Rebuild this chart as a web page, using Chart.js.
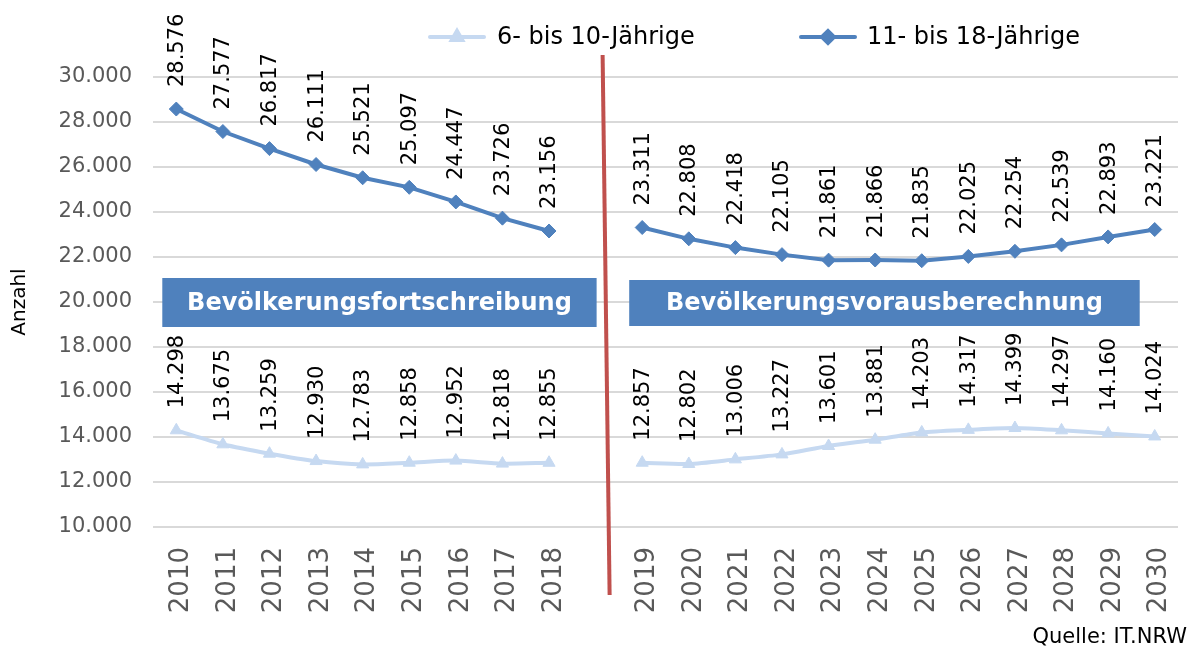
<!DOCTYPE html>
<html>
<head>
<meta charset="utf-8">
<script src="https://cdn.jsdelivr.net/npm/chart.js@4/dist/chart.umd.min.js"></script>
<style>
html,body{margin:0;padding:0;background:#fff;}
#wrap{width:1195px;height:646px;position:relative;}
</style>
</head>
<body>
<div id="wrap"><canvas id="c" width="1195" height="646"></canvas></div>
<script>
const years = ['2010','2011','2012','2013','2014','2015','2016','2017','2018','','2019','2020','2021','2022','2023','2024','2025','2026','2027','2028','2029','2030'];
const age6to10 = [14298,13675,13259,12930,12783,12858,12952,12818,12855,null,12857,12802,13006,13227,13601,13881,14203,14317,14399,14297,14160,14024];
const age11to18 = [28576,27577,26817,26111,25521,25097,24447,23726,23156,null,23311,22808,22418,22105,21861,21866,21835,22025,22254,22539,22893,23221];
const seriesNames = ['6- bis 10-Jährige','11- bis 18-Jährige'];
const yTicks = {min:10000, max:30000, step:2000};
const sectionLabels = ['Bevölkerungsfortschreibung','Bevölkerungsvorausberechnung'];
const sourceText = 'Quelle: IT.NRW';

const fmt = n => String(n).replace(/\B(?=(\d{3})+(?!\d))/g,'.');
const FONT = '"DejaVu Sans", Verdana, sans-serif';
const C_LIGHT = '#C6D9F1';
const C_DARK = '#4F81BD';

const deco = {
  id:'deco',
  beforeDatasetsDraw(chart){
    const ctx = chart.ctx, x = chart.scales.x, y = chart.scales.y;
    const yc = y.getPixelForValue(20000);
    const boxes = [
      {l:x.getPixelForValue(0)-14, r:x.getPixelForValue(9)+1, t:yc-24, b:yc+25, txt:sectionLabels[0]},
      {l:x.getPixelForValue(10)-13, r:x.getPixelForValue(21)-15, t:yc-22, b:yc+24, txt:sectionLabels[1]}
    ];
    ctx.save();
    boxes.forEach(bx=>{
      ctx.fillStyle = C_DARK;
      ctx.fillRect(bx.l, bx.t, bx.r-bx.l, bx.b-bx.t);
      ctx.fillStyle = '#fff';
      ctx.font = 'bold 24px ' + FONT;
      ctx.textAlign = 'center';
      ctx.textBaseline = 'middle';
      ctx.fillText(bx.txt, (bx.l+bx.r)/2, (bx.t+bx.b)/2+1);
    });
    const xs = x.getPixelForValue(9);
    ctx.strokeStyle = '#C0504D';
    ctx.lineWidth = 4;
    ctx.beginPath();
    ctx.moveTo(xs+7, 55);
    ctx.lineTo(xs+14, 595);
    ctx.stroke();
    ctx.restore();
  },
  afterDatasetsDraw(chart){
    const ctx = chart.ctx;
    ctx.save();
    ctx.fillStyle = '#000';
    ctx.font = '21px ' + FONT;
    ctx.textAlign = 'left';
    ctx.textBaseline = 'middle';
    chart.data.datasets.forEach((ds, di)=>{
      const meta = chart.getDatasetMeta(di);
      meta.data.forEach((pt, i)=>{
        const v = ds.data[i];
        if (v === null) return;
        ctx.save();
        ctx.translate(pt.x+1, pt.y-22);
        ctx.rotate(-Math.PI/2);
        ctx.fillText(fmt(v), 0, 0);
        ctx.restore();
      });
    });
    const items = [
      {x0:430, x1:484, tx:497, color:C_LIGHT, style:'triangle', name:seriesNames[0]},
      {x0:801, x1:855, tx:867, color:C_DARK, style:'rectRot', name:seriesNames[1]}
    ];
    const ly = 37;
    items.forEach(it=>{
      ctx.strokeStyle = it.color;
      ctx.lineWidth = 4;
      ctx.lineCap = 'round';
      ctx.beginPath(); ctx.moveTo(it.x0, ly); ctx.lineTo(it.x1, ly); ctx.stroke();
      ctx.fillStyle = it.color;
      Chart.helpers.drawPoint(ctx, {pointStyle:it.style, radius:6, borderWidth:1}, (it.x0+it.x1)/2, ly);
      ctx.fillStyle = '#000';
      ctx.font = '24px ' + FONT;
      ctx.textAlign = 'left';
      ctx.textBaseline = 'middle';
      ctx.fillText(it.name, it.tx, ly+1);
    });
    ctx.fillStyle = '#000';
    ctx.font = '21px ' + FONT;
    ctx.textAlign = 'right';
    ctx.textBaseline = 'alphabetic';
    ctx.fillText(sourceText, 1187, 643);
    ctx.restore();
  }
};

new Chart(document.getElementById('c'), {
  type:'line',
  data:{
    labels: years,
    datasets:[
      {label:seriesNames[0], data:age6to10, borderColor:C_LIGHT, backgroundColor:C_LIGHT,
       borderWidth:4, pointStyle:'triangle', pointRadius:7, pointBorderWidth:1, pointBorderColor:C_LIGHT, tension:0.25, spanGaps:false},
      {label:seriesNames[1], data:age11to18, borderColor:C_DARK, backgroundColor:C_DARK,
       borderWidth:4, pointStyle:'rectRot', pointRadius:7, pointBorderWidth:1, pointBorderColor:C_DARK, tension:0, spanGaps:false}
    ]
  },
  options:{
    responsive:false,
    animation:false,
    layout:{padding:{top:77, left:0, right:17, bottom:0}},
    plugins:{legend:{display:false}, tooltip:{enabled:false}, title:{display:false}},
    scales:{
      x:{
        offset:true,
        grid:{display:false, drawTicks:false},
        border:{display:false},
        ticks:{autoSkip:false, maxRotation:90, minRotation:90, padding:20, labelOffset:5, color:'#595959', font:{family:FONT, size:26}},
        afterFit(s){ s.height = 119; s.paddingLeft = 0; s.paddingRight = 0; }
      },
      y:{
        min:yTicks.min, max:yTicks.max,
        grid:{color:'#D9D9D9', lineWidth:2, drawTicks:false},
        border:{display:false},
        ticks:{stepSize:yTicks.step, padding:21, color:'#595959', font:{family:FONT, size:21}, callback:v=>fmt(v)},
        title:{display:true, text:'Anzahl', color:'#000', font:{family:FONT, size:20}, padding:{top:8, bottom:0}},
        afterFit(s){ s.width = 153; s.paddingTop = 0; s.paddingBottom = 0; }
      }
    }
  },
  plugins:[deco]
});
</script>
</body>
</html>
